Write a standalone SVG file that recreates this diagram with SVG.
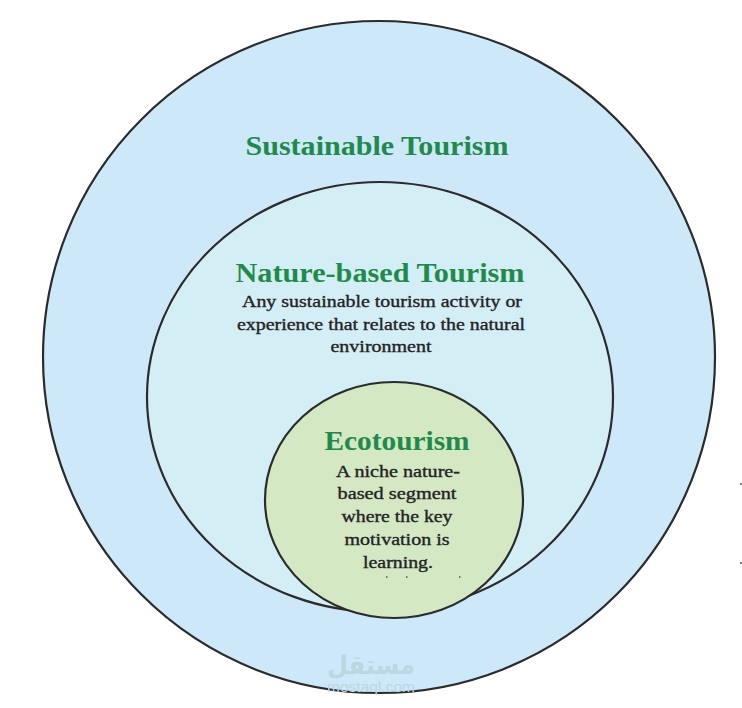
<svg xmlns="http://www.w3.org/2000/svg" width="742" height="708" viewBox="0 0 742 708">
  <style>
    .ring { stroke: #2b2b2b; stroke-width: 2.2; }
    .title { font-family: "Liberation Serif", "Times New Roman", serif; font-weight: bold; fill: #1f8a4c; text-anchor: middle; }
    .body { font-family: "Liberation Serif", "Times New Roman", serif; fill: #222222; stroke: #222222; stroke-width: 0.35; text-anchor: middle; font-size: 17px; }
    .dot { fill: #777777; }
  </style>
  <rect width="742" height="708" fill="#ffffff"/>

  <g id="sustainable-tourism">
    <circle class="ring" cx="379" cy="357" r="336" fill="#cde8f8"/>
    <text class="title" x="377" y="155" font-size="27" textLength="263" lengthAdjust="spacingAndGlyphs">Sustainable Tourism</text>
  </g>

  <g id="nature-based-tourism">
    <ellipse class="ring" cx="380" cy="397" rx="233" ry="215" fill="#d4eef5"/>
    <text class="title" x="380" y="282" font-size="28" textLength="289" lengthAdjust="spacingAndGlyphs">Nature-based Tourism</text>
    <text class="body" x="382" y="307" textLength="280" lengthAdjust="spacingAndGlyphs">Any sustainable tourism activity or</text>
    <text class="body" x="381" y="330" textLength="288" lengthAdjust="spacingAndGlyphs">experience that relates to the natural</text>
    <text class="body" x="381" y="352" textLength="101" lengthAdjust="spacingAndGlyphs">environment</text>
  </g>

  <g id="ecotourism">
    <ellipse class="ring" cx="394" cy="500" rx="129" ry="118" fill="#d4e8c4"/>
    <text class="title" x="397" y="450" font-size="28" textLength="145" lengthAdjust="spacingAndGlyphs">Ecotourism</text>
    <text class="body" x="398" y="477" textLength="124" lengthAdjust="spacingAndGlyphs">A niche nature-</text>
    <text class="body" x="397" y="499" textLength="119" lengthAdjust="spacingAndGlyphs">based segment</text>
    <text class="body" x="397" y="522" textLength="111" lengthAdjust="spacingAndGlyphs">where the key</text>
    <text class="body" x="397" y="545" textLength="105" lengthAdjust="spacingAndGlyphs">motivation is</text>
    <text class="body" x="398" y="568" textLength="70" lengthAdjust="spacingAndGlyphs">learning.</text>
    <rect class="dot" x="386" y="576" width="1.5" height="2"/>
    <rect class="dot" x="406" y="576" width="1.5" height="2"/>
    <rect class="dot" x="459" y="576" width="1.5" height="2"/>
  </g>

  <g id="connectors"></g>

  <g id="marks">
    <rect class="dot" x="740" y="483" width="2" height="2"/>
    <rect class="dot" x="740" y="562" width="2" height="2"/>
  </g>

  <g id="watermark" fill="#bcd6e2" text-anchor="middle">
    <text x="371" y="674" font-family="'DejaVu Sans', 'Noto Sans', sans-serif" font-weight="bold" font-size="26" textLength="88" lengthAdjust="spacingAndGlyphs">مستقل</text>
    <text x="371" y="692" font-family="'Liberation Sans', Arial, sans-serif" font-size="14" textLength="88" lengthAdjust="spacingAndGlyphs">mostaql.com</text>
  </g>
</svg>
